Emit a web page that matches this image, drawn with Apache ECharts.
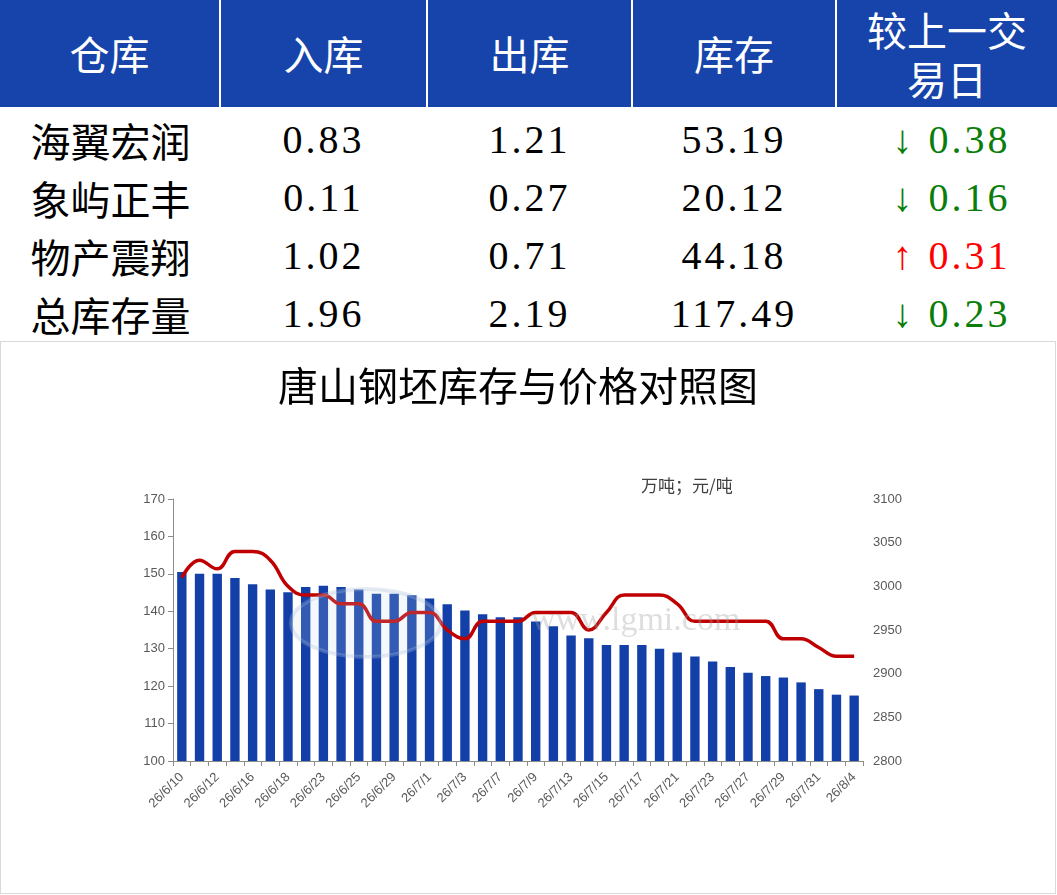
<!DOCTYPE html>
<html>
<head>
<meta charset="utf-8">
<script src="https://cdn.jsdelivr.net/npm/echarts@6/dist/echarts.min.js"></script>
<style>
body{margin:0;background:#fff;}
#tbl{position:absolute;left:0;top:0;width:1057px;border-collapse:collapse;table-layout:fixed;
     font-family:"Liberation Serif","Noto Sans CJK SC",serif;}
#tbl th{background:#1744aa;color:#fff;font-weight:normal;font-size:40px;height:107px;
        line-height:49px;padding:0;border-left:2px solid #fff;border-bottom:4px solid #fff;
        font-family:"Noto Sans CJK SC",sans-serif;}
#tbl th:first-child{border-left:none;}
#tbl td{font-size:40px;height:58px;line-height:58px;text-align:center;padding:0;letter-spacing:3px;white-space:nowrap;}
#tbl td.name{font-family:"Noto Sans CJK SC",sans-serif;letter-spacing:0;padding-left:1px;}
#main{position:absolute;left:0;top:341px;width:1054px;height:551px;border:1px solid #d9d9d9;}
</style>
</head>
<body>
<table id="tbl"></table>
<div id="main"></div>
<script type="text/javascript">
// 表格
var headers = ['仓库', '入库', '出库', '库存', '较上一交<br>易日'];
var colWidths = [220, 207, 205, 204, 221];
var warehouses = ['海翼宏润', '象屿正丰', '物产震翔', '总库存量'];
var inbound = ['0.83', '0.11', '1.02', '1.96'];
var outbound = ['1.21', '0.27', '0.71', '2.19'];
var stock = ['53.19', '20.12', '44.18', '117.49'];
var change = [-0.38, -0.16, 0.31, -0.23];

// 图表
var dates = ['26/6/10','26/6/11','26/6/12','26/6/15','26/6/16','26/6/17','26/6/18','26/6/22','26/6/23','26/6/24',
             '26/6/25','26/6/26','26/6/29','26/6/30','26/7/1','26/7/2','26/7/3','26/7/6','26/7/7','26/7/8',
             '26/7/9','26/7/10','26/7/13','26/7/14','26/7/15','26/7/16','26/7/17','26/7/20','26/7/21','26/7/22',
             '26/7/23','26/7/24','26/7/27','26/7/28','26/7/29','26/7/30','26/7/31','26/8/3','26/8/4'];
var stockTotal = [150.5,150.0,150.0,148.9,147.2,145.8,145.1,146.5,146.8,146.5,
                  145.8,144.7,144.7,144.3,143.4,141.9,140.2,139.2,138.4,138.4,
                  137.3,136.0,133.5,132.8,131.0,131.0,131.0,130.0,129.0,127.9,
                  126.6,125.1,123.6,122.7,122.3,121.0,119.2,117.72,117.49];
var price = [3010,3030,3020,3040,3040,3030,3000,2990,2990,2980,
             2980,2960,2960,2970,2970,2950,2940,2960,2960,2960,
             2970,2970,2970,2950,2970,2990,2990,2990,2980,2960,
             2960,2960,2960,2960,2940,2940,2930,2920,2920];

var html = '<colgroup>' + colWidths.map(function (w) { return '<col style="width:' + w + 'px">'; }).join('') + '</colgroup>';
html += '<tr>' + headers.map(function (h) { return '<th>' + h + '</th>'; }).join('') + '</tr>';
for (var i = 0; i < warehouses.length; i++) {
    var c = change[i];
    var col = c < 0 ? '#0a7d0a' : '#ff0000';
    var arrow = c < 0 ? '↓' : '↑';
    html += '<tr><td class="name">' + warehouses[i] + '</td><td>' + inbound[i] + '</td><td>' + outbound[i] +
            '</td><td>' + stock[i] + '</td><td style="color:' + col + ';padding-left:10px">' + arrow + ' ' +
            Math.abs(c).toFixed(2) + '</td></tr>';
}
document.getElementById('tbl').innerHTML = html;

var myChart = echarts.init(document.getElementById('main'));
myChart.setOption({
    animation: false,
    graphic: [
        {type: 'text', left: 277, top: 24, style: {text: '唐山钢坯库存与价格对照图', fontSize: 40,
            fontFamily: 'Noto Sans CJK SC', fill: '#000'}},
        {type: 'text', left: 640, top: 135, style: {text: '万吨；元/吨', fontSize: 17,
            fontFamily: 'Noto Sans CJK SC', fill: '#404040'}},
        {type: 'ellipse', shape: {cx: 365, cy: 281, rx: 75, ry: 34}, z: 10,
            style: {fill: 'rgba(200,215,235,0.18)', stroke: 'rgba(170,190,220,0.3)', lineWidth: 4}},
        {type: 'text', left: 530, top: 262, z: 10, style: {text: 'www.lgmi.com', fontSize: 34,
            fontFamily: 'Liberation Serif', fill: 'rgba(160,160,160,0.35)'}}
    ],
    grid: {left: 172, right: 192, top: 157, bottom: 132},
    xAxis: {
        type: 'category',
        data: dates,
        axisLine: {lineStyle: {color: '#8c8c8c'}},
        axisTick: {show: true, interval: 0, lineStyle: {color: '#8c8c8c'}},
        axisLabel: {interval: 1, rotate: 45, fontSize: 13, margin: 14, color: '#595959', fontFamily: 'Liberation Sans'}
    },
    yAxis: [
        {
            type: 'value', min: 100, max: 170, interval: 10,
            axisLine: {show: true, lineStyle: {color: '#8c8c8c'}},
            axisTick: {show: true, lineStyle: {color: '#8c8c8c'}},
            splitLine: {show: false},
            axisLabel: {fontSize: 13, color: '#595959', fontFamily: 'Liberation Sans'}
        },
        {
            type: 'value', min: 2800, max: 3100, interval: 50,
            axisLine: {show: false},
            axisTick: {show: false},
            splitLine: {show: false},
            axisLabel: {fontSize: 13, color: '#595959', margin: 10, fontFamily: 'Liberation Sans',
                formatter: function (v) { return String(v); }}
        }
    ],
    series: [
        {
            type: 'bar',
            data: stockTotal,
            barWidth: '53%',
            itemStyle: {color: '#1340a8'}
        },
        {
            type: 'line',
            yAxisIndex: 1,
            data: price,
            smooth: 0.45,
            symbol: 'none',
            lineStyle: {width: 3.5, color: '#c00000'}
        }
    ]
});
</script>
</body>
</html>
